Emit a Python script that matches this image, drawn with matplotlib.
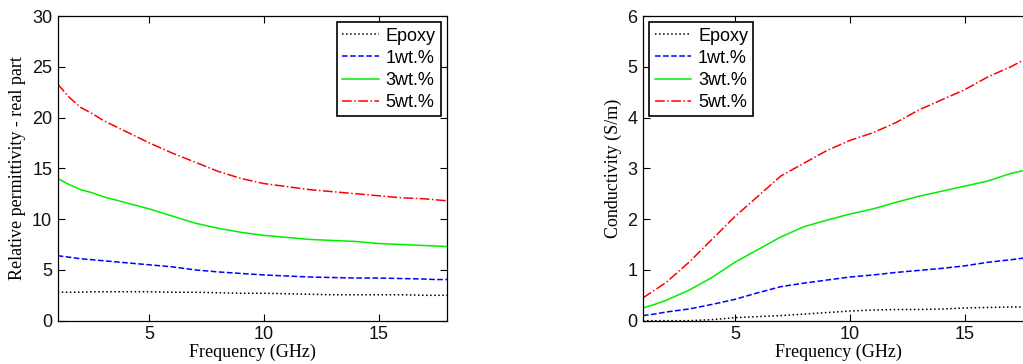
import matplotlib
matplotlib.use("Agg")
import matplotlib.pyplot as plt

# frequency points (GHz)
freq = [1, 1.5, 2, 2.5, 3, 4, 5, 6, 7, 8, 9, 10, 11, 12, 13, 14, 15, 16, 17, 17.5, 18]

# relative permittivity, real part
eps_epoxy = [2.8, 2.8, 2.8, 2.85, 2.85, 2.85, 2.85, 2.8, 2.8, 2.75, 2.7, 2.7, 2.65, 2.6, 2.55, 2.55, 2.55, 2.55, 2.5, 2.5, 2.5]
eps_1wt = [6.4, 6.25, 6.1, 6.0, 5.9, 5.7, 5.5, 5.3, 5.0, 4.8, 4.65, 4.5, 4.4, 4.3, 4.25, 4.2, 4.2, 4.15, 4.1, 4.05, 4.05]
eps_3wt = [14.0, 13.4, 12.9, 12.6, 12.2, 11.6, 11.0, 10.3, 9.6, 9.1, 8.7, 8.4, 8.2, 8.0, 7.9, 7.8, 7.6, 7.5, 7.4, 7.35, 7.3]
eps_5wt = [23.3, 22.0, 21.0, 20.4, 19.7, 18.6, 17.5, 16.5, 15.6, 14.7, 14.0, 13.5, 13.2, 12.9, 12.7, 12.5, 12.3, 12.1, 12.0, 11.9, 11.8]

# conductivity (S/m)
sig_epoxy = [0.0, 0.0, 0.0, 0.0, 0.0, 0.02, 0.06, 0.08, 0.1, 0.13, 0.16, 0.19, 0.21, 0.22, 0.22, 0.23, 0.25, 0.26, 0.27, 0.27, 0.28]
sig_1wt = [0.1, 0.13, 0.17, 0.2, 0.23, 0.32, 0.42, 0.55, 0.67, 0.74, 0.8, 0.86, 0.9, 0.95, 0.99, 1.03, 1.08, 1.15, 1.2, 1.23, 1.2]
sig_3wt = [0.25, 0.32, 0.4, 0.5, 0.6, 0.85, 1.15, 1.4, 1.65, 1.85, 1.98, 2.1, 2.2, 2.33, 2.45, 2.55, 2.65, 2.75, 2.9, 2.95, 2.9]
sig_5wt = [0.45, 0.6, 0.75, 0.95, 1.15, 1.6, 2.05, 2.45, 2.85, 3.1, 3.35, 3.55, 3.7, 3.9, 4.15, 4.35, 4.55, 4.8, 5.0, 5.12, 5.05]

labels = ["Epoxy", "1wt.%", "3wt.%", "5wt.%"]
colors = ["black", "blue", "#00ee00", "red"]
styles = [":", "--", "-", "-."]

tick_font = "Liberation Sans"
label_font = "Liberation Serif"

fig = plt.figure(figsize=(10.23, 3.64), dpi=100)
ax1 = fig.add_axes([0.0564, 0.119, 0.381, 0.837])
ax2 = fig.add_axes([0.6285, 0.119, 0.382, 0.837])


def style_axes(ax, series, ylim, yticks, ylabel, legend_loc):
    for ys, lab, c, ls in zip(series, labels, colors, styles):
        ax.plot(freq, ys, color=c, linestyle=ls, linewidth=1.1, label=lab)
    ax.set_xlim(1, 18)
    ax.set_ylim(*ylim)
    ax.set_xticks([5, 10, 15])
    ax.set_yticks(yticks)
    ax.tick_params(direction="in", top=True, right=True, length=5, width=0.8, labelsize=13,
                   labelcolor="#111111", pad=4)
    for t in ax.get_xticklabels() + ax.get_yticklabels():
        t.set_fontfamily(tick_font)
    for s in ax.spines.values():
        s.set_linewidth(0.9)
    ax.set_xlabel("Frequency (GHz)", fontfamily=label_font, fontsize=13, labelpad=0)
    ax.set_ylabel(ylabel, fontfamily=label_font, fontsize=13, labelpad=4)
    leg = ax.legend(loc=legend_loc, fancybox=False, framealpha=1, edgecolor="black",
                    prop={"family": tick_font, "size": 13}, handlelength=2.0,
                    borderaxespad=0.35, labelspacing=0.28, borderpad=0.3, handletextpad=0.4)
    leg.get_frame().set_linewidth(1.2)


style_axes(ax1, [eps_epoxy, eps_1wt, eps_3wt, eps_5wt], (0, 30), [0, 5, 10, 15, 20, 25, 30],
           "Relative permittivity - real part", "upper right")
style_axes(ax2, [sig_epoxy, sig_1wt, sig_3wt, sig_5wt], (0, 6), [0, 1, 2, 3, 4, 5, 6],
           "Conductivity (S/m)", "upper left")

fig.savefig("out.png", dpi=100)
